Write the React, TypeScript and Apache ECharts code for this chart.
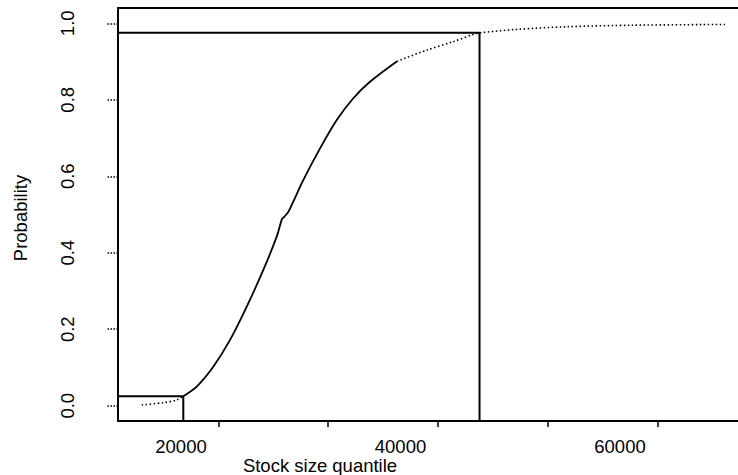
import React, { useEffect, useRef } from "react";
import * as echarts from "echarts";

// Axis extents
const xMin = 14260;
const xMax = 70750;
const yMin = -0.04;
const yMax = 1.04;

// Tick labels / tick positions
const xLabelValues = [20000, 40000, 60000];
const xTickValues = [23400, 33400, 43400, 53400, 63400];
const yTickValues = [0, 0.2, 0.4, 0.6, 0.8, 1.0];

// Curve: lower dotted tail
const lowerX = [16420, 18390, 19610, 20210];
const lowerP = [0.002, 0.008, 0.015, 0.025];

// Curve: solid middle part
const midX = [20210, 21430, 22940, 24470, 25990, 27500, 28720, 29200, 29400, 29780, 31140, 32670, 34190, 35700, 37220, 39660];
const midP = [0.025, 0.05, 0.102, 0.172, 0.259, 0.355, 0.442, 0.488, 0.494, 0.507, 0.59, 0.673, 0.747, 0.804, 0.847, 0.9];

// Curve: upper dotted tail
const upperX = [39660, 42390, 44810, 46630, 47200, 50590, 55150, 61190, 69570];
const upperP = [0.9, 0.93, 0.952, 0.971, 0.975, 0.984, 0.991, 0.995, 0.997];

// Quantile markers
const lowQuantileX = 20210;
const lowQuantileP = 0.025;
const highQuantileX = 47200;
const highQuantileP = 0.975;

const xTitle = "Stock size quantile";
const yTitle = "Probability";

const FONT = "'Liberation Sans', Arial, Helvetica, sans-serif";
const FS = 18.5;

const zip = (xs: number[], ys: number[]) => xs.map((x, i) => [x, ys[i]]);

export default function App() {
  const ref = useRef<HTMLDivElement>(null);
  useEffect(() => {
    if (!ref.current) return;
    const chart = echarts.init(ref.current, undefined, { renderer: "svg" });
    const dotted = { color: "#000", width: 1.6, type: [1.5, 2.5] as any };
    const frameLine = { show: true, onZero: false, lineStyle: { color: "#000", width: 2 } };
    const option: any = {
      animation: false,
      backgroundColor: "#fff",
      grid: {
        left: 118,
        top: 8,
        bottom: 54,
        right: 0,
        show: false,
      },
      xAxis: [
        {
          type: "value",
          position: "bottom",
          min: xMin,
          max: xMax,
          axisLine: frameLine,
          splitLine: { show: false },
          axisTick: {
            show: true,
            customValues: xTickValues,
            length: 6,
            lineStyle: { color: "#000", width: 1.5 },
          },
          axisLabel: {
            customValues: xLabelValues,
            margin: 16,
            color: "#000",
            fontFamily: FONT,
            fontSize: FS,
            formatter: (v: number) => String(v),
          },
        },
        {
          type: "value",
          position: "top",
          min: xMin,
          max: xMax,
          axisLine: frameLine,
          splitLine: { show: false },
          axisTick: { show: false },
          axisLabel: { show: false },
        },
      ],
      yAxis: {
        type: "value",
        min: yMin,
        max: yMax,
        axisLine: frameLine,
        splitLine: { show: false },
        axisTick: {
          show: true,
          customValues: yTickValues,
          length: 12,
          lineStyle: { color: "#000", width: 1.5, type: [1.5, 1.5] },
        },
        axisLabel: {
          customValues: yTickValues,
          rotate: 90,
          margin: 41,
          color: "#000",
          fontFamily: FONT,
          fontSize: FS,
          formatter: (v: number) => v.toFixed(1),
        },
      },
      graphic: [
        {
          type: "text",
          x: 320,
          y: 465,
          style: {
            text: xTitle,
            fill: "#000",
            font: `${FS}px ${FONT}`,
            textAlign: "center",
            textVerticalAlign: "middle",
          },
        },
        {
          type: "text",
          x: 20,
          y: 218,
          rotation: Math.PI / 2,
          style: {
            text: yTitle,
            fill: "#000",
            font: `${FS}px ${FONT}`,
            textAlign: "center",
            textVerticalAlign: "middle",
          },
        },
      ],
      series: [
        {
          type: "line",
          data: zip(lowerX, lowerP),
          showSymbol: false,
          smooth: 0.3,
          lineStyle: dotted,
        },
        {
          type: "line",
          data: zip(midX, midP),
          showSymbol: false,
          smooth: 0.3,
          lineStyle: { color: "#000", width: 1.8 },
        },
        {
          type: "line",
          data: zip(upperX, upperP),
          showSymbol: false,
          smooth: 0.3,
          lineStyle: dotted,
        },
        {
          type: "line",
          data: [
            [xMin, lowQuantileP],
            [lowQuantileX, lowQuantileP],
            [lowQuantileX, yMin],
          ],
          showSymbol: false,
          lineStyle: { color: "#000", width: 2 },
        },
        {
          type: "line",
          data: [
            [xMin, highQuantileP],
            [highQuantileX, highQuantileP],
            [highQuantileX, yMin],
          ],
          showSymbol: false,
          lineStyle: { color: "#000", width: 2 },
        },
      ],
    };
    chart.setOption(option);
    return () => chart.dispose();
  }, []);
  return (
    <div
      ref={ref}
      style={{ position: "fixed", left: 0, top: 0, width: 738, height: 475, background: "#fff" }}
    />
  );
}
